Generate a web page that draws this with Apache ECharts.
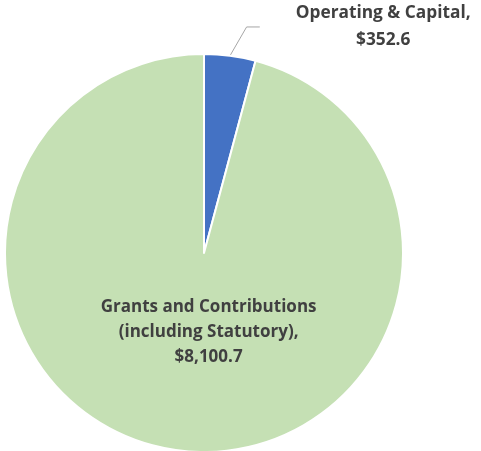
<!DOCTYPE html>
<html>
<head>
<meta charset="utf-8">
<script src="https://cdn.jsdelivr.net/npm/echarts@6/dist/echarts.min.js"></script>
<style>html,body{margin:0;padding:0;background:#fff}#c{width:481px;height:451px}</style>
</head>
<body>
<div id="c"></div>
<script>
const categories = ["Operating & Capital", "Grants and Contributions\n(including Statutory)"];
const values = [352.6, 8100.7];
const colors = ["#4472C4", "#C5E0B4"];

function fmt(v){ return '$' + v.toLocaleString('en-US',{minimumFractionDigits:1, maximumFractionDigits:1}); }

const chart = echarts.init(document.getElementById('c'), null, {renderer:'canvas'});
chart.setOption({
  animation:false,
  series:[{
    type:'pie',
    center:[204,253],
    radius:[0,199],
    startAngle:90,
    clockwise:true,
    itemStyle:{borderColor:'#fff', borderWidth:2},
    label:{
      fontFamily:'Open Sans', fontWeight:'bold', fontSize:17, color:'#404040',
      lineHeight:25, align:'center', overflow:'none'
    },
    labelLayout: p => p.dataIndex === 1 ? {dx:18, dy:-22} : {},
    data: categories.map((c,i)=>({
      name:c, value:values[i], itemStyle:{color:colors[i]},
      label: i===0 ? {
        position:'outside', alignTo:'none', distanceToLabelLine:36, overflow:'none',
        formatter:p => '{a|' + p.name + ',}\n{a|' + fmt(p.value) + '}',
        rich:{a:{align:'center', fontFamily:'Open Sans', fontWeight:'bold', fontSize:17.3, color:'#404040', lineHeight:27}}
      } : {
        position:'inside',
        formatter:p => p.name + ',\n' + fmt(p.value)
      },
      labelLine: i===0 ? {show:true, length:29, length2:26, minTurnAngle:120, lineStyle:{color:'#A6A6A6', width:1}} : {show:false}
    }))
  }]
});
</script>
</body>
</html>
